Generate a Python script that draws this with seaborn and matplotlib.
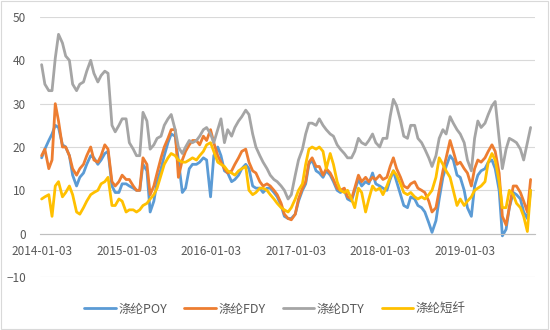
import matplotlib
matplotlib.use("Agg")
import matplotlib.pyplot as plt
import matplotlib.dates as mdates
from matplotlib.patches import Rectangle
import numpy as np
import pandas as pd
import seaborn as sns

# semi-monthly observations, 2014-01 .. 2019-10
dates = pd.date_range("2014-01-01", periods=140, freq="SMS")

poy = [17.5, 19.5, 21.5, 23, 25, 24.5, 20.5, 20, 18, 13.5, 11, 13, 14, 16, 18, 17.5, 16, 17, 18.5, 19,
       11, 9.5, 9.5, 11.5, 11.5, 11, 10.5, 10, 10, 16, 14.5, 5, 7.5, 12, 15, 18, 21, 23, 22.5, 17,
       9.5, 10.5, 15, 16, 16, 16.5, 17.5, 17, 8.5, 18, 20, 18, 14.5, 14, 12, 12.5, 13.5, 15, 16, 15,
       11, 10.5, 10.5, 9.5, 10.5, 10.5, 9.5, 8.5, 6.5, 4, 3.5, 3.5, 4.5, 7.5, 10, 11.5, 16, 17, 14.5, 14,
       13, 14.5, 13.5, 12, 10, 9.5, 10, 8, 7.5, 10, 12.5, 11, 12, 11.5, 14, 11.5, 11, 10.5, 10, 12.5,
       14.5, 12, 9, 6.5, 6, 8.5, 8, 6.5, 6, 5, 2.5, 0.3, 3, 8, 13, 15.5, 18, 17, 13.5, 13,
       10, 6, 4, 11, 13.5, 14.5, 15, 16.5, 17, 15, 10, -0.5, 1, 6, 9.5, 9, 8, 5, 3.5, 10]

fdy = [18, 19.5, 15, 17, 30, 26, 20, 20, 18, 15, 13.5, 15, 16, 18, 20, 17, 16.5, 18, 20.5, 19.5,
       12, 11, 12, 13.5, 12.5, 12.5, 11, 10, 10, 17.5, 16, 9, 11, 14, 17.5, 20, 22, 24, 24, 13,
       17, 19, 20.5, 21.5, 21.5, 20.5, 22.5, 21.5, 24, 21, 18, 16.5, 15, 14, 14.5, 16, 17.5, 19, 19.5, 16.5,
       14.5, 14, 12, 11, 11.5, 11, 10, 9, 7, 4.5, 3.5, 3.2, 4.5, 8, 10.5, 12, 16.5, 17.5, 15.5, 15.5,
       13.5, 15, 14, 12.5, 10.5, 10, 10.5, 8.5, 8, 10.5, 13.5, 12, 13, 12, 13, 12.5, 13.5, 12.5, 13, 15.5,
       17.5, 15, 13, 11, 10.5, 11.5, 12, 10.5, 10, 9.5, 7.5, 5, 6, 10, 14.5, 17.5, 21.5, 19, 16, 16.5,
       15, 14, 11, 15, 17, 16.5, 17.5, 19, 20.5, 19, 14, 4, 2, 6, 11, 11, 9.5, 7.5, 5, 12.5]

dty = [39, 34.5, 33, 33, 40.5, 46, 44, 41, 40, 34.5, 33, 34.5, 35, 37.5, 40, 37, 35, 36.5, 37.5, 37,
       25, 23.5, 25, 26.5, 26.5, 21, 19.5, 18, 18, 28, 26, 19.5, 20.5, 22, 22.5, 25, 26.5, 27.5, 24, 20,
       18.5, 20, 21.5, 21, 21.5, 22.5, 24, 24.5, 23, 21, 24, 26.5, 21, 24, 22.5, 24.5, 26, 27, 28.5, 27.5,
       23, 20, 18, 16.5, 15, 13.5, 12.5, 12, 11, 10, 8, 9, 13.5, 17, 19.5, 23, 25.5, 25.5, 25, 26.5,
       25, 24, 23, 22.5, 20.5, 19.5, 18.5, 17.5, 17.5, 19, 22, 21, 20.5, 21.5, 23, 21, 20, 22, 22, 27,
       31, 29.5, 26, 22.5, 22, 25, 25, 22, 21, 19.5, 17.5, 15.5, 18, 22, 24, 23, 27, 25.5, 24, 23,
       21, 17, 14.5, 22, 26, 24.5, 25.5, 27.5, 29.5, 30.5, 22, 15, 19.5, 22, 21.5, 21, 19.5, 17, 21, 24.5]

dx = [8, 8.5, 9, 4, 11, 12, 8.5, 9.5, 11, 9, 5, 4.5, 6, 7.5, 9, 9.5, 10, 11.5, 12, 13,
      6.5, 6.5, 8, 7.5, 5, 5.5, 5.5, 5, 5.5, 6.5, 7, 8, 9, 10.5, 13.5, 16, 17.5, 18.5, 18, 17,
      16.5, 16.5, 17, 17.5, 17, 18, 19, 20.5, 21, 19, 16.5, 16, 15.5, 14.5, 14, 13.5, 14.5, 15, 15.5, 10,
      9, 9.5, 10.5, 10.5, 10, 9, 8, 7, 6, 5.5, 5, 6, 8, 10, 11.5, 16, 19.5, 20, 19.5, 20,
      19, 15, 18.5, 16, 12, 10, 9.5, 10, 8, 6, 10.5, 9.5, 5, 8, 11, 10, 10.5, 9, 11, 13,
      14.5, 13.5, 11.5, 9.5, 9, 9.5, 8.5, 8, 8.5, 8, 9, 10, 13, 17.5, 16, 14.5, 13, 10, 6.5, 8,
      6.5, 7.5, 8.5, 10, 10.5, 11, 12, 16.5, 18.5, 17, 12, 6, 6, 10, 9, 7, 6, 4, 0.5, 10]

series_names = ["涤纶POY", "涤纶FDY", "涤纶DTY", "涤纶短纤"]
colors = ["#5B9BD5", "#ED7D31", "#A5A5A5", "#FFC000"]
y_ticks = [-10, 0, 10, 20, 30, 40, 50]
x_tick_labels = ["2014-01-03", "2015-01-03", "2016-01-03", "2017-01-03", "2018-01-03", "2019-01-03"]

df = pd.DataFrame({"date": dates, series_names[0]: poy, series_names[1]: fdy,
                   series_names[2]: dty, series_names[3]: dx})
long = df.melt(id_vars="date", var_name="series", value_name="value")

sns.set_theme(style="white")
plt.rcParams["font.family"] = ["Noto Sans CJK SC", "DejaVu Sans"]

fig = plt.figure(figsize=(5.5, 3.3), dpi=100)
ax = fig.add_axes([40 / 550, 1 - 277 / 330, 495 / 550, 260 / 330])

sns.lineplot(data=long, x="date", y="value", hue="series", hue_order=series_names,
             palette=colors, linewidth=2.0, ax=ax, legend=True)

ax.set_ylim(-10, 50)
ax.set_yticks(y_ticks)
ax.yaxis.grid(True, color="#D9D9D9", linewidth=0.8)
ax.xaxis.grid(False)
ax.set_axisbelow(True)

tick_dates = pd.to_datetime(x_tick_labels)
ax.set_xticks(tick_dates)
ax.set_xticklabels(x_tick_labels)
ax.set_xlim(pd.Timestamp("2013-12-25"), pd.Timestamp("2019-11-03"))

for s in ["left", "right", "top"]:
    ax.spines[s].set_visible(False)
ax.spines["bottom"].set_position(("data", 0))
ax.spines["bottom"].set_color("#BFBFBF")
ax.spines["bottom"].set_linewidth(0.8)

ax.tick_params(axis="x", colors="#595959", labelsize=8.5, length=4, width=0.8,
               direction="out", pad=4, color="#BFBFBF")
ax.tick_params(axis="y", colors="#595959", labelsize=8.5, length=0, pad=10)
ax.set_xlabel("")
ax.set_ylabel("")

handles, labels = ax.get_legend_handles_labels()
ax.get_legend().remove()
leg = fig.legend(handles, labels, loc="center", bbox_to_anchor=(0.5, 1 - 309 / 330),
                 ncol=4, frameon=False, fontsize=9, handlelength=2.5, columnspacing=1.4,
                 handletextpad=0.2)
for t in leg.get_texts():
    t.set_color("#595959")
for h in leg.get_lines():
    h.set_linewidth(2.0)

fig.patches.append(Rectangle((0.002, 0.003), 0.995, 0.994, transform=fig.transFigure,
                             fill=False, edgecolor="#D9D9D9", linewidth=0.8))

fig.savefig("out.png", dpi=100, facecolor="white")
